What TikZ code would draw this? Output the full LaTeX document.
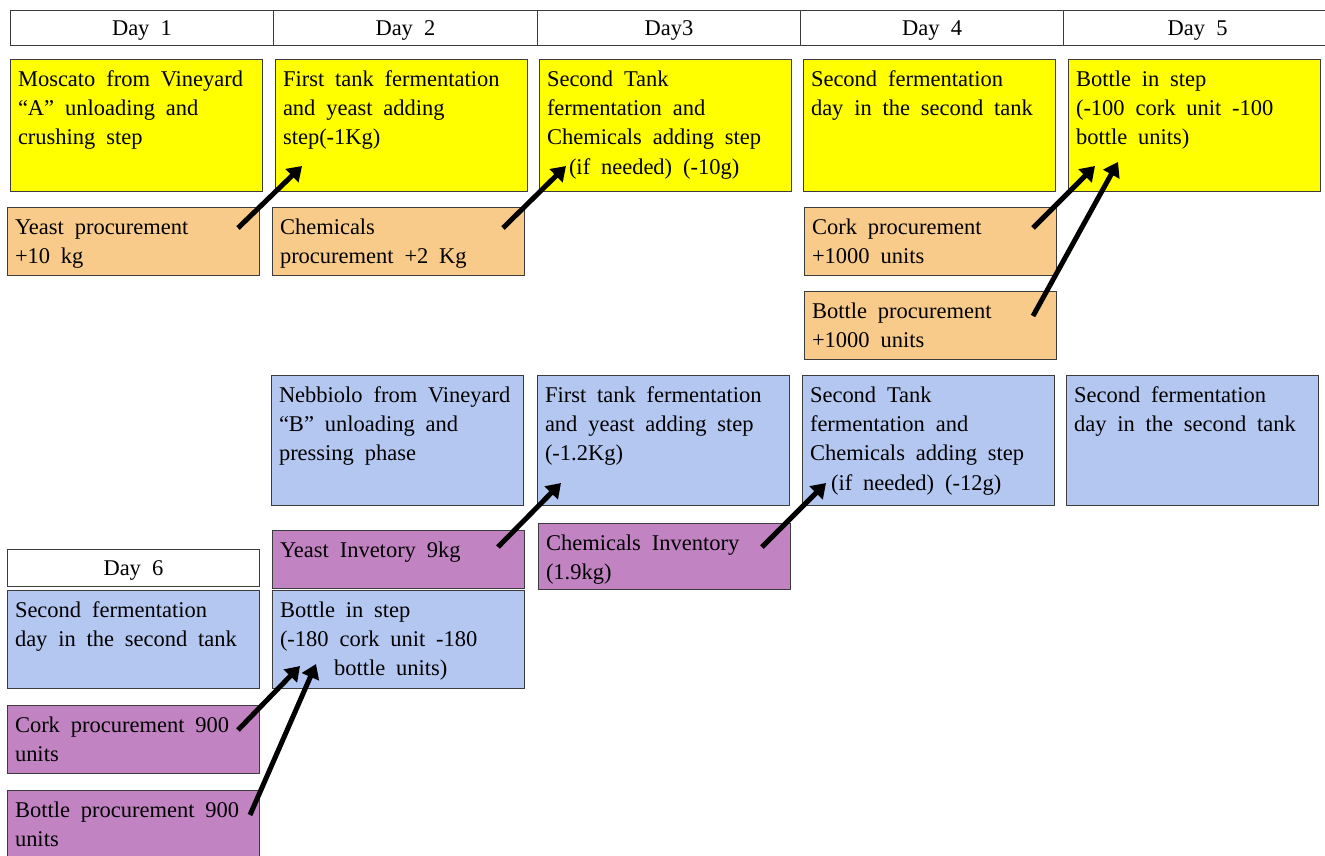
\documentclass[tikz,border=0pt]{standalone}
\usepackage{fontspec}
\setmainfont{Liberation Serif}
\usetikzlibrary{positioning}
\usetikzlibrary{arrows.meta}

\definecolor{cellline}{RGB}{60,60,60}
\definecolor{mosyellow}{RGB}{255,255,0}
\definecolor{procorange}{RGB}{248,203,138}
\definecolor{nebblue}{RGB}{180,199,241}
\definecolor{invpurple}{RGB}{193,131,193}

\newcommand{\cellbody}[2]{\vbox to #1{\hsize=252pt\leftskip=8pt\rightskip=0pt plus 1fil\parindent=0pt\parfillskip=0pt plus 1fil\spaceskip=0.48em\relax\vskip-2pt\prevdepth=0pt\noindent#2\par\vfil}}
\newcommand{\dayname}[1]{\raisebox{-7.5pt}[0pt][0pt]{\spaceskip=0.5em\relax#1}}

\begin{document}
\begin{tikzpicture}[x=1pt, y=-1pt,
        cell/.style={draw=cellline, line width=1pt, anchor=north west, inner sep=0pt, outer sep=0pt, font=\fontsize{22.5}{29.3}\selectfont},
        dayhead/.style={draw=cellline, line width=1pt, anchor=north west, inner sep=0pt, minimum height=35pt, font=\fontsize{22.5}{29.3}\selectfont},
        feed/.style={line width=5pt, -{Triangle[length=14pt, width=18pt]}}]
                            \clip (0,0) rectangle (1325,855);
                            \node[dayhead, minimum width=263pt] (day1) at (10,10) {\dayname{Day 1}};
                            \node[dayhead, minimum width=264pt] (day2) at (273,10) {\dayname{Day 2}};
                            \node[dayhead, minimum width=263pt] (day3) at (537,10) {\dayname{Day3}};
                            \node[dayhead, minimum width=263pt] (day4) at (800,10) {\dayname{Day 4}};
                            \node[dayhead, minimum width=268pt] (day5) at (1063,10) {\dayname{Day 5}};
                            \node[dayhead, minimum width=252pt, minimum height=37pt] (day6) at (7,549) {\dayname{Day 6}};

                            \node[cell, fill=mosyellow] (mosA) at (10,59) {\cellbody{132pt}{Moscato from Vineyard\\``A'' unloading and\\crushing step}};
                            \node[cell, fill=mosyellow] (firstA) at (275,59) {\cellbody{132pt}{First tank fermentation\\and yeast adding\\step(-1Kg)}};
                            \node[cell, fill=mosyellow] (secondA) at (539,59) {\cellbody{132pt}{Second Tank\\fermentation and\\Chemicals adding step\\\hspace*{22pt}(if needed) (-10g)}};
                            \node[cell, fill=mosyellow] (fermA) at (803,59) {\cellbody{132pt}{Second fermentation\\day in the second tank}};
                            \node[cell, fill=mosyellow] (bottleA) at (1068,59) {\cellbody{132pt}{Bottle in step\\(-100 cork unit -100\\bottle units)}};

                            \node[cell, fill=procorange] (yeastproc) at (7,207) {\cellbody{68pt}{Yeast procurement\\+10 kg}};
                            \node[cell, fill=procorange] (chemproc) at (272,207) {\cellbody{68pt}{Chemicals\\procurement +2 Kg}};
                            \node[cell, fill=procorange] (corkproc) at (804,207) {\cellbody{68pt}{Cork procurement\\+1000 units}};
                            \node[cell, fill=procorange] (bottleproc) at (804,291) {\cellbody{68pt}{Bottle procurement\\+1000 units}};

                            \node[cell, fill=nebblue] (nebB) at (271,375) {\cellbody{130pt}{Nebbiolo from Vineyard\\``B'' unloading and\\pressing phase}};
                            \node[cell, fill=nebblue] (firstB) at (537,375) {\cellbody{130pt}{First tank fermentation\\and yeast adding step\\(-1.2Kg)}};
                            \node[cell, fill=nebblue] (secondB) at (802,375) {\cellbody{130pt}{Second Tank\\fermentation and\\Chemicals adding step\\\hspace*{21pt}(if needed) (-12g)}};
                            \node[cell, fill=nebblue] (fermB) at (1066,375) {\cellbody{130pt}{Second fermentation\\day in the second tank}};
                            \node[cell, fill=nebblue] (fermC) at (7,590) {\cellbody{98pt}{Second fermentation\\day in the second tank}};
                            \node[cell, fill=nebblue] (bottleB) at (272,590) {\cellbody{98pt}{Bottle in step\\(-180 cork unit -180\\\hspace*{54pt}bottle units)}};

                            \node[cell, fill=invpurple] (yeastinv) at (272,530) {\cellbody{58pt}{Yeast Invetory 9kg}};
                            \node[cell, fill=invpurple] (cheminv) at (538,523) {\cellbody{66pt}{Chemicals Inventory\\(1.9kg)}};
                            \node[cell, fill=invpurple] (corkinv) at (7,705) {\cellbody{68pt}{Cork procurement 900\\units}};
                            \node[cell, fill=invpurple] (bottleinv) at (7,790) {\cellbody{68pt}{Bottle procurement 900\\units}};

                            \draw[feed] ([shift={(-21,21)}]yeastproc.north east) -- ([shift={(27,-25)}]firstA.south west);
                            \draw[feed] ([shift={(-21,21)}]chemproc.north east) -- ([shift={(27,-25)}]secondA.south west);
                            \draw[feed] ([shift={(-23,21)}]corkproc.north east) -- ([shift={(27,-25)}]bottleA.south west);
                            \draw[feed] ([shift={(-23,25)}]bottleproc.north east) -- ([shift={(50,-29)}]bottleA.south west);
                            \draw[feed] ([shift={(-26,17)}]yeastinv.north east) -- ([shift={(24,-22)}]firstB.south west);
                            \draw[feed] ([shift={(-28,24)}]cheminv.north east) -- ([shift={(24,-22)}]secondB.south west);
                            \draw[feed] ([shift={(-21,25)}]corkinv.north east) -- ([shift={(28,-22)}]bottleB.south west);
                            \draw[feed] ([shift={(-9,25)}]bottleinv.north east) -- ([shift={(44,-24)}]bottleB.south west);
                        \end{tikzpicture}
\end{document}
